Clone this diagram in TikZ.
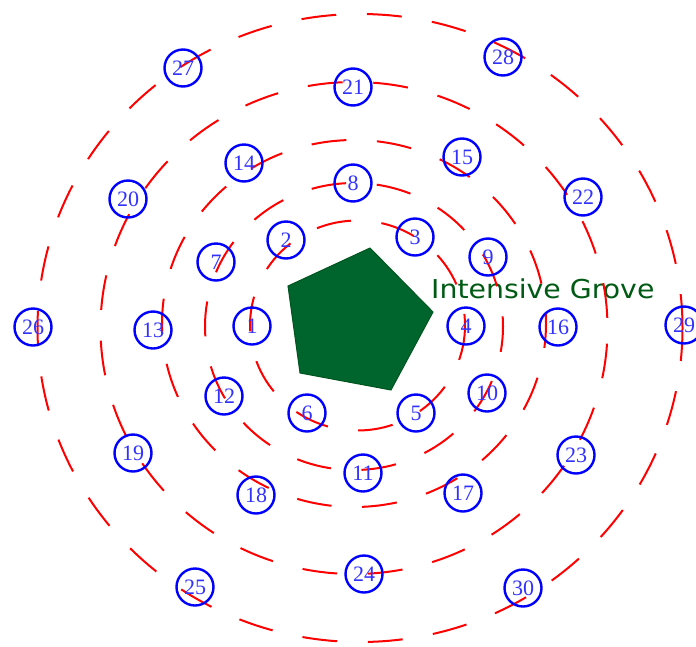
\documentclass[tikz,border=0pt]{standalone}
\usepackage{fontspec}
\usepackage{graphicx}
\setmainfont{Liberation Serif}
\newfontfamily\labelfamily{DejaVu Sans}
\definecolor{ringred}{RGB}{255,0,0}
\definecolor{nodeblue}{RGB}{0,0,255}
\definecolor{numblue}{RGB}{50,50,255}
\definecolor{grovefill}{RGB}{0,100,45}
\definecolor{groveedge}{RGB}{0,85,30}
\definecolor{grovetext}{RGB}{0,90,20}
\tikzset{
  ring/.style={draw=ringred, line width=2pt, dash pattern=on 35pt off 30.6pt},
  treenode/.style={circle, draw=nodeblue, line width=2.4pt, minimum size=37pt,
    inner sep=0pt, text=numblue, font=\fontsize{22}{22}\selectfont},
  grove/.style={fill=grovefill, draw=groveedge, line width=1pt, line join=miter},
  grovelabel/.style={anchor=base west, inner sep=0pt, text=grovetext,
    font=\labelfamily\fontsize{26}{26}\selectfont}
}
\begin{document}
\begin{tikzpicture}[x=1pt, y=1pt, yscale=-1]
  \useasboundingbox (0,0) rectangle (696,646);

  % central grove
  \coordinate (g1) at (288,286);
  \coordinate (g2) at (370,248);
  \coordinate (g3) at (433,312);
  \coordinate (g4) at (391,390);
  \coordinate (g5) at (300,373);
  \path[grove] (g1) -- (g2) -- (g3) -- (g4) -- (g5) -- cycle;
  \node[grovelabel] (label) at (431,298) {\scalebox{1.09}[1]{Intensive Grove}};

  % dashed planting rings: centre x, centre y, x radius, y radius, dash phase
  \foreach \cx/\cy/\rx/\ry/\ph in {357.5/325.5/107.5/105/0,
                                   354/326.5/149/143.5/9.5,
                                   354/323.5/192/183.5/10.5,
                                   354/328/253.5/246/50,
                                   360/328/322.5/314/2}{
    \draw[ring, dash phase=\ph pt] (\cx+\rx,\cy)
      arc[start angle=0, end angle=360, x radius=\rx, y radius=\ry];
  }

  % numbered trees
  \foreach \n/\x/\y in {1/252/326, 2/286/240, 3/415/237, 4/466/326, 5/416/413,
                        6/307/413, 7/216/262, 8/353/183, 9/488/257, 10/487/393,
                        11/363/473, 12/224/396, 13/153/330, 14/244/163, 15/462/157,
                        16/558/327, 17/463/493, 18/256/495, 19/133/453, 20/128/199,
                        21/353/87, 22/583/197, 23/576/455, 24/364/574, 25/195/587,
                        26/33/327, 27/183/68, 28/503/57, 29/684/325, 30/523/588}{
    \node[treenode] (n\n) at (\x,\y) {\n};
  }
\end{tikzpicture}
\end{document}
